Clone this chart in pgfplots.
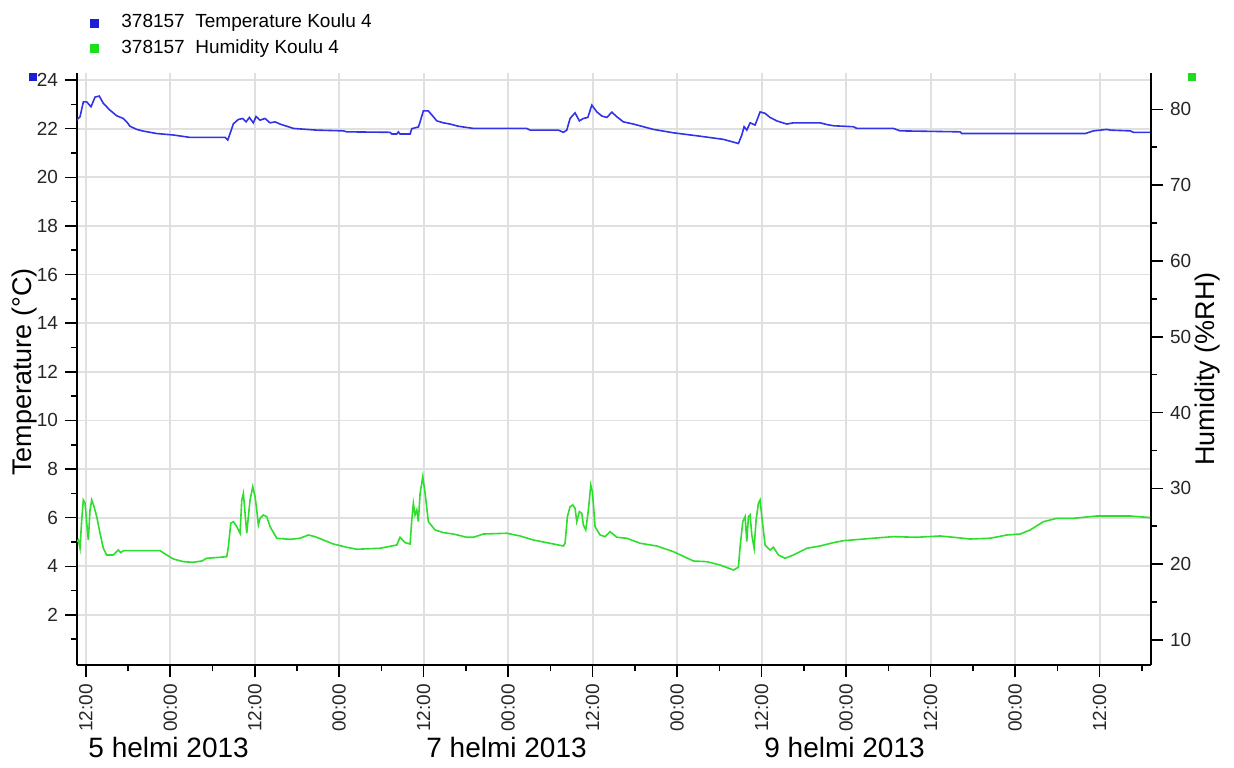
\documentclass[border=0pt]{standalone}
\usepackage{fontspec}
\setmainfont{Liberation Sans}
\usepackage{pgfplots}
\pgfplotsset{compat=1.18}
\definecolor{tblue}{RGB}{50,50,232}
\definecolor{hgreen}{RGB}{45,222,45}
\definecolor{gridgray}{RGB}{224,224,224}
\definecolor{sqblue}{RGB}{30,30,215}
\definecolor{sqgreen}{RGB}{30,220,30}
\begin{document}
\begin{tikzpicture}
\path[use as bounding box] (0,0) rectangle (617pt,383.5pt);
\pgfplotsset{
  common/.style={
    at={(38.5pt,51pt)}, anchor=south west,
    scale only axis, width=537pt, height=296pt,
    xmin=-1.24, xmax=151.3,
    tick align=outside,
    major tick length=6pt, minor tick length=3pt,
    every tick/.style={black, line width=0.8pt},
    tick label style={font=\fontsize{9.5}{11}\selectfont, text=black!85},
    /pgf/number format/assume math mode=true,
    axis line style={line width=0.9pt, black},
    clip mode=individual,
  }
}
\begin{axis}[common, name=T,
  axis x line*=bottom, axis y line*=left,
  ymin=-0.06, ymax=24.29,
  ytick={2,4,...,24}, minor ytick={1,3,...,23},
  xtick={0,12,...,144}, minor xtick={6,18,...,150},
  xticklabels={12:00,00:00,12:00,00:00,12:00,00:00,12:00,00:00,12:00,00:00,12:00,00:00,12:00},
  xticklabel style={rotate=90, anchor=east},
  xmajorgrids, ymajorgrids,
  grid style={gridgray, line width=0.9pt},
  ylabel={Temperature (°C)},
  ylabel style={font=\fontsize{13.5}{16}\selectfont, at={(axis description cs:-0.0484,0.495)}, anchor=center},
  legend style={at={(axis description cs:0.0125,1.1019)}, anchor=north west, draw=none, fill=none,
    inner sep=0pt, outer sep=0pt, row sep=2.7pt, font=\fontsize{9.5}{11}\selectfont,
    nodes={inner sep=0pt, text height=7pt, text depth=2pt}},
  legend cell align=left,
]
\addplot[tblue, line width=0.8pt, forget plot] coordinates {
(-1.28,22.35) (-0.81,22.49) (-0.34,23.1) (0.14,23.1) (0.75,22.9) (1.32,23.3) (1.93,23.34) (2.5,23.04)
(3.45,22.76) (4.40,22.53) (5.34,22.42) (5.82,22.28) (6.29,22.1) (7.24,21.97) (8.18,21.9) (10.09,21.8)
(12.44,21.74) (14.82,21.64) (19.79,21.64) (20.17,21.53) (20.50,21.8) (20.97,22.2) (21.68,22.38)
(22.30,22.42) (22.77,22.28) (23.24,22.46) (23.81,22.24) (24.19,22.5) (24.76,22.35) (25.47,22.42)
(26.18,22.24) (26.89,22.28) (27.60,22.19) (28.55,22.1) (29.49,22.01) (32.81,21.94) (36.59,21.91)
(37.07,21.87) (43.22,21.85) (43.47,21.78) (44.18,21.78) (44.40,21.87) (44.64,21.78) (46.07,21.78)
(46.31,22.0) (47.24,22.07) (47.49,22.28) (47.95,22.73) (48.66,22.73) (49.38,22.49) (49.86,22.32)
(50.80,22.24) (51.75,22.19) (52.93,22.1) (55.06,22.01) (62.64,22.01) (63.11,21.94) (67.13,21.94)
(67.84,21.85) (68.32,21.94) (68.79,22.42) (69.50,22.65) (70.11,22.32) (70.68,22.42) (71.31,22.46)
(71.88,22.97) (72.59,22.69) (73.30,22.52) (74.01,22.46) (74.72,22.68) (75.43,22.49) (76.36,22.28)
(77.78,22.19) (80.63,21.97) (83.47,21.83) (87.26,21.69) (90.57,21.56) (92.70,21.39) (93.18,21.74)
(93.51,22.08) (93.89,21.94) (94.36,22.24) (95.07,22.15) (95.78,22.69) (96.49,22.63) (97.20,22.46)
(98.15,22.32) (99.57,22.19) (100.51,22.24) (104.30,22.24) (105.26,22.17) (106.19,22.12) (109.03,22.08)
(109.52,22.01) (114.72,22.01) (115.67,21.91) (124.19,21.87) (124.43,21.8) (141.95,21.8) (143.13,21.91)
(145.03,21.97) (145.50,21.94) (148.34,21.91) (148.81,21.85) (151.19,21.85)
};
\addlegendimage{legend image code/.code={\path[draw=none,fill=none] (0pt,-5pt) rectangle (15.5pt,5pt); \fill[sqblue,draw=none] (0pt,-2.5pt) rectangle (4.5pt,2pt);}}
\addlegendentry{378157\ \ Temperature Koulu 4}
\addlegendimage{legend image code/.code={\path[draw=none,fill=none] (0pt,-5pt) rectangle (15.5pt,5pt); \fill[sqgreen,draw=none] (0pt,-2.5pt) rectangle (4.5pt,2pt);}}
\addlegendentry{378157\ \ Humidity Koulu 4}
\node[anchor=base west, inner sep=0pt, yshift=-46pt, font=\fontsize{14}{16}\selectfont] at (axis cs:0.33,-0.06) {5 helmi 2013};
\node[anchor=base west, inner sep=0pt, yshift=-46pt, font=\fontsize{14}{16}\selectfont] at (axis cs:48.33,-0.06) {7 helmi 2013};
\node[anchor=base west, inner sep=0pt, yshift=-46pt, font=\fontsize{14}{16}\selectfont] at (axis cs:96.33,-0.06) {9 helmi 2013};
\end{axis}
\begin{axis}[common, name=H,
  axis x line=none, axis y line*=right,
  ymin=6.70, ymax=84.79,
  ytick={10,20,...,80}, minor ytick={15,25,...,75},
  ylabel={Humidity (\%RH)},
  ylabel style={font=\fontsize{13.5}{16}\selectfont, at={(axis description cs:1.053,0.5)}, anchor=center},
]
\addplot[hgreen, line width=0.8pt] coordinates {
(-1.28,22.97) (-1.05,23.19) (-0.81,22.1) (-0.57,25.83) (-0.34,28.47) (-0.10,28.03) (0.14,25.4)
(0.37,23.19) (0.61,27.15) (0.85,28.47) (1.18,27.59) (1.56,26.27) (2.03,24.08) (2.50,22.1) (2.98,21.21)
(3.92,21.21) (4.63,21.87) (4.97,21.52) (5.34,21.78) (10.55,21.78) (11.51,21.21) (12.44,20.69)
(13.86,20.33) (15.28,20.25) (16.48,20.42) (17.19,20.78) (19.08,20.91) (20.03,20.99) (20.26,22.31)
(20.60,25.4) (20.97,25.61) (21.45,24.95) (21.92,24.08) (22.16,28.47) (22.39,29.35) (22.63,26.71)
(22.87,24.08) (23.10,26.27) (23.34,28.47) (23.72,30.22) (24.05,28.91) (24.29,27.15) (24.52,25.17)
(24.76,26.05) (25.23,26.49) (25.71,26.27) (26.18,24.95) (27.13,23.42) (29.02,23.28) (30.44,23.42)
(31.62,23.85) (32.57,23.63) (33.75,23.19) (35.17,22.66) (37.07,22.23) (38.49,21.97) (41.80,22.1)
(44.18,22.53) (44.64,23.55) (45.36,22.84) (46.07,22.66) (46.31,25.83) (46.53,28.03) (46.77,26.49)
(47.02,27.15) (47.24,25.61) (47.49,29.35) (47.87,31.54) (48.20,29.35) (48.66,25.61) (49.62,24.51)
(50.80,24.16) (52.22,23.98) (54.12,23.55) (55.06,23.55) (56.48,23.98) (59.80,24.08) (61.69,23.72)
(63.58,23.19) (65.48,22.84) (67.84,22.4) (68.08,22.76) (68.41,26.27) (68.79,27.59) (69.18,27.81)
(69.50,27.37) (69.74,25.61) (70.11,26.93) (70.45,26.71) (70.68,25.17) (71.02,24.51) (71.39,27.15)
(71.73,30.45) (71.96,29.57) (72.34,24.95) (73.05,23.85) (73.76,23.63) (74.47,24.29) (75.43,23.55)
(76.85,23.42) (78.74,22.76) (81.11,22.4) (83.47,21.65) (86.31,20.42) (88.21,20.33) (90.10,19.89)
(91.99,19.23) (92.70,19.59) (92.94,22.31) (93.32,25.61) (93.65,26.27) (93.89,22.97) (94.12,26.27)
(94.36,26.49) (94.60,23.85) (94.93,22.1) (95.21,25.83) (95.54,28.03) (95.78,28.47) (96.02,26.27)
(96.49,22.53) (97.20,21.87) (97.67,22.23) (98.38,21.21) (99.33,20.78) (100.51,21.21) (102.41,22.1)
(104.30,22.4) (106.19,22.84) (107.61,23.1) (109.98,23.28) (112.82,23.5) (114.72,23.63) (118.04,23.55)
(121.35,23.72) (123.24,23.55) (125.61,23.32) (128.45,23.42) (130.82,23.85) (132.71,23.98) (134.13,24.51)
(136.02,25.61) (137.93,26.05) (140.28,26.05) (143.61,26.36) (148.34,26.36) (151.19,26.14)
};
\end{axis}
\fill[sqblue] ([xshift=-24pt]T.north west) rectangle ([xshift=-20pt,yshift=-4pt]T.north west);
\fill[sqgreen] ([xshift=18.5pt]T.north east) rectangle ([xshift=22.5pt,yshift=-4pt]T.north east);
\end{tikzpicture}
\end{document}
